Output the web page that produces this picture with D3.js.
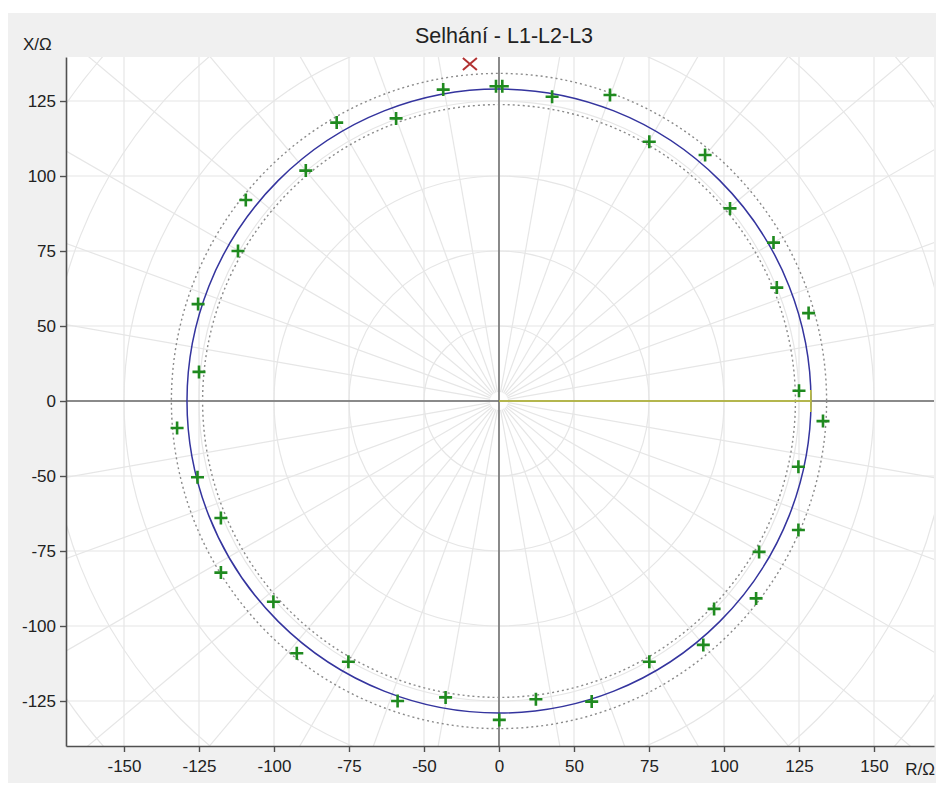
<!DOCTYPE html>
<html>
<head>
<meta charset="utf-8">
<script src="https://cdn.jsdelivr.net/npm/d3@7"></script>
<style>
  body { margin: 0; background: #ffffff; }
  text { font-family: Arial, "Liberation Sans", sans-serif; fill: #222; }
</style>
</head>
<body>
<svg id="chart" width="936" height="785"></svg>
<script>
// ---- data -------------------------------------------------------------
const chartTitle = "Selhání - L1-L2-L3";

// axis ticks (positions in Ω) and the labels printed at them
const xTickValues = [-125, -100, -75, -50, -25, 0, 25, 50, 75, 100, 125];
const xTickLabels = ["-150", "-125", "-100", "-75", "-50", "0", "50", "75", "100", "125", "150"];
const yTickValues = [-100, -75, -50, -25, 0, 25, 50, 75, 100];
const yTickLabels = ["-125", "-100", "-75", "-50", "0", "50", "75", "100", "125"];

// polar grid
const gridRadii = [25, 50, 75, 100, 125, 150, 175, 200];
const gridAngles = d3.range(0, 360, 10);

// characteristic circle and its tolerance band (Ω)
const zoneRadius = 104;
const toleranceRadii = [98.8, 109.2];

// impedance vector (R, X)
const vectorR = [0, 104];
const vectorX = [0, 0];

// test shots (R, X)
const shotR = [-18.6, -1.0, 1.1, 17.7, 37.0, 50.1, 68.7, 77.0, 91.5, 92.6,
               103.2, 100.0, 108.0, 99.8, 99.8, 86.7, 85.7, 71.7, 68.1, 50.1,
               30.9, 12.3, 0.1, -17.8, -33.8, -50.2, -67.4, -75.2, -92.7, -92.7,
               -100.5, -107.3, -100.0, -100.3, -87.0, -84.4, -64.4, -54.1, -34.3];
const shotX = [103.8, 104.9, 104.9, 101.4, 102.0, 86.4, 82.0, 64.2, 52.8, 37.8,
               29.3, 3.4, -6.7, -21.9, -43.0, -50.3, -65.8, -69.3, -81.3, -86.9,
               -100.2, -99.4, -106.3, -98.8, -100.0, -86.9, -84.1, -66.9, -57.2, -39.0,
               -25.4, -9.0, 9.7, 32.3, 50.0, 67.0, 76.8, 92.8, 94.2];

// failed shot
const failR = [-9.7];
const failX = [112.3];

// ---- layout -----------------------------------------------------------
const W = 936, H = 785;
const plot = { left: 66, right: 934, top: 57, bottom: 746 };

const svg = d3.select("#chart");

const x = d3.scaleLinear().domain([-144.33, 145]).range([plot.left, plot.right]);
const y = d3.scaleLinear().domain([-115, 114.67]).range([plot.bottom, plot.top]);
const rpx = r => x(r) - x(0);

// panel background
svg.append("rect").attr("x", 8).attr("y", 13).attr("width", W - 8).attr("height", 770)
  .attr("fill", "#f0f0f0");
svg.append("rect").attr("x", plot.left).attr("y", plot.top)
  .attr("width", plot.right - plot.left).attr("height", plot.bottom - plot.top)
  .attr("fill", "#ffffff");

svg.append("clipPath").attr("id", "plotClip")
  .append("rect").attr("x", plot.left).attr("y", plot.top)
  .attr("width", plot.right - plot.left).attr("height", plot.bottom - plot.top);

const g = svg.append("g").attr("clip-path", "url(#plotClip)");

// rectangular grid
g.selectAll("line.vgrid").data(xTickValues).join("line")
  .attr("x1", d => x(d)).attr("x2", d => x(d))
  .attr("y1", plot.top).attr("y2", plot.bottom)
  .attr("stroke", "#e6e6e6").attr("stroke-width", 1.2);
g.selectAll("line.hgrid").data(yTickValues).join("line")
  .attr("y1", d => y(d)).attr("y2", d => y(d))
  .attr("x1", plot.left).attr("x2", plot.right)
  .attr("stroke", "#e6e6e6").attr("stroke-width", 1.2);

// polar grid
g.selectAll("circle.pgrid").data(gridRadii).join("circle")
  .attr("cx", x(0)).attr("cy", y(0)).attr("r", d => rpx(d))
  .attr("fill", "none").attr("stroke", "#e6e6e6").attr("stroke-width", 1.2);
g.selectAll("line.rgrid").data(gridAngles).join("line")
  .attr("x1", d => x(3 * Math.cos(d * Math.PI / 180)))
  .attr("y1", d => y(3 * Math.sin(d * Math.PI / 180)))
  .attr("x2", d => x(220 * Math.cos(d * Math.PI / 180)))
  .attr("y2", d => y(220 * Math.sin(d * Math.PI / 180)))
  .attr("stroke", "#e6e6e6").attr("stroke-width", 1.2);

// axes through the origin
g.append("line").attr("x1", plot.left).attr("x2", plot.right)
  .attr("y1", y(0)).attr("y2", y(0)).attr("stroke", "#6a6a6a").attr("stroke-width", 1.5);
g.append("line").attr("x1", x(0)).attr("x2", x(0))
  .attr("y1", plot.top).attr("y2", plot.bottom).attr("stroke", "#6a6a6a").attr("stroke-width", 1.5);

// tolerance band
g.selectAll("circle.tol").data(toleranceRadii).join("circle")
  .attr("cx", x(0)).attr("cy", y(0)).attr("r", d => rpx(d))
  .attr("fill", "none").attr("stroke", "#8a8a8a").attr("stroke-width", 1.4)
  .attr("stroke-dasharray", "2,3");

// characteristic
g.append("circle").attr("cx", x(0)).attr("cy", y(0)).attr("r", rpx(zoneRadius))
  .attr("fill", "none").attr("stroke", "#34349e").attr("stroke-width", 1.5);

// impedance vector
g.append("path")
  .attr("d", d3.line().x(d => x(d[0])).y(d => y(d[1]))(vectorR.map((r, i) => [r, vectorX[i]])))
  .attr("stroke", "#c2c43a").attr("stroke-width", 1.6).attr("fill", "none");
g.append("path")
  .attr("transform", `translate(${x(0)},${y(0)})`)
  .attr("d", d3.arc().innerRadius(rpx(zoneRadius)).outerRadius(rpx(zoneRadius))
    .startAngle(Math.PI / 2 - 0.035).endAngle(Math.PI / 2 + 0.035)())
  .attr("stroke", "#c2c43a").attr("stroke-width", 1.6).attr("fill", "none");

// test shots
const arm = 6.5;
g.selectAll("path.shot").data(shotR.map((r, i) => [r, shotX[i]])).join("path")
  .attr("transform", d => `translate(${x(d[0])},${y(d[1])})`)
  .attr("d", `M${-arm},0H${arm}M0,${-arm}V${arm}`)
  .attr("stroke", "#1f8a1f").attr("stroke-width", 2.6).attr("fill", "none");

// failed shot
g.selectAll("path.fail").data(failR.map((r, i) => [r, failX[i]])).join("path")
  .attr("transform", d => `translate(${x(d[0])},${y(d[1])})`)
  .attr("d", "M-7,-6L7,6M-7,6L7,-6")
  .attr("stroke", "#b23232").attr("stroke-width", 2).attr("fill", "none");

// ---- axes -------------------------------------------------------------
const xAxis = d3.axisBottom(x).tickValues(xTickValues)
  .tickFormat((d, i) => xTickLabels[i]).tickSize(6).tickSizeOuter(0).tickPadding(8);
const yAxis = d3.axisLeft(y).tickValues(yTickValues)
  .tickFormat((d, i) => yTickLabels[i]).tickSize(6).tickSizeOuter(0).tickPadding(4);

const gx = svg.append("g").attr("transform", `translate(0,${plot.bottom})`).call(xAxis);
const gy = svg.append("g").attr("transform", `translate(${plot.left},0)`).call(yAxis);
[gx, gy].forEach(a => {
  a.select(".domain").attr("stroke", "#505050").attr("stroke-width", 1.6);
  a.selectAll(".tick line").attr("stroke", "#505050").attr("stroke-width", 1.4);
  a.selectAll(".tick text").attr("fill", "#1e1e1e").style("font-size", "17px")
    .style("font-family", "Arial, 'Liberation Sans', sans-serif");
});

// axis names and title
svg.append("text").attr("x", 23).attr("y", 50).style("font-size", "17px").text("X/Ω");
svg.append("text").attr("x", 935).attr("y", 775).attr("text-anchor", "end")
  .style("font-size", "17px").text("R/Ω");
svg.append("text").attr("x", 504).attr("y", 43).attr("text-anchor", "middle")
  .style("font-size", "21.5px").text(chartTitle);
</script>
</body>
</html>
